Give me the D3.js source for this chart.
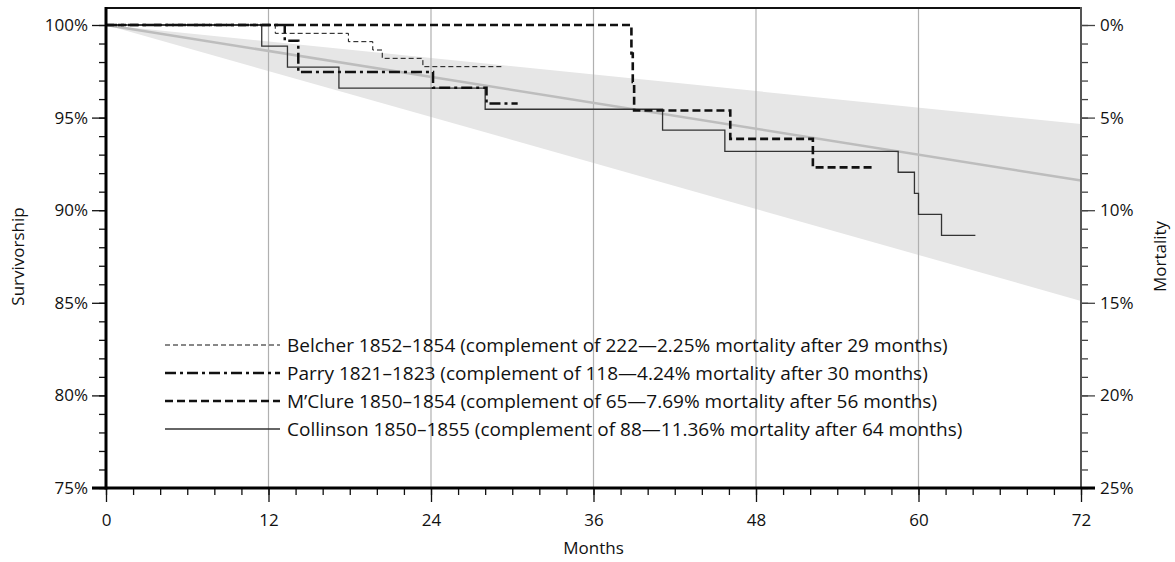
<!DOCTYPE html>
<html>
<head>
<meta charset="utf-8">
<script src="https://cdn.jsdelivr.net/npm/d3@7"></script>
<style>
  body { margin: 0; background: #fff; }
  svg text { font-family: "Open Sans", "Noto Sans", sans-serif; fill: #111; }
</style>
</head>
<body>
<div id="chart"></div>
<script>
// Survivorship step data: [month, survivorship %]
var belcher = [[0, 100], [12.5, 99.55], [17.9, 99.10], [19.7, 98.65], [20.4, 98.20], [23.4, 97.75], [29.4, 97.75]];
var parry = [[0, 100], [13.2, 99.15], [14.2, 97.46], [24.15, 96.61], [28.1, 95.76], [30.4, 95.76]];
var mclure = [[0, 100], [38.8, 98.46], [38.9, 96.92], [39.0, 95.38], [46.1, 93.85], [52.2, 92.31], [56.6, 92.31]];
var collinson = [[0, 100], [11.5, 98.86], [13.4, 97.73], [17.2, 96.59], [28.0, 95.45], [41.1, 94.32], [45.7, 93.18],
                 [58.5, 92.05], [59.7, 90.91], [60.0, 89.77], [61.7, 88.64], [64.2, 88.64]];

// expected trend and its band
var trend = [[0, 100], [72, 91.6]];
var bandUpper = [[0, 100], [72, 94.65]];
var bandLower = [[0, 100], [72, 85.1]];

var monthTicks = [0, 12, 24, 36, 48, 60, 72];
var survTicks = [75, 80, 85, 90, 95, 100];
var mortTicks = [0, 5, 10, 15, 20, 25];

var legendLabels = [
    "Belcher 1852\u20131854 (complement of 222\u20142.25% mortality after 29 months)",
    "Parry 1821\u20131823 (complement of 118\u20144.24% mortality after 30 months)",
    "M\u2019Clure 1850\u20131854 (complement of 65\u20147.69% mortality after 56 months)",
    "Collinson 1850\u20131855 (complement of 88\u201411.36% mortality after 64 months)"
];

var W = 1175, H = 562;
var m = { left: 106, right: 1081, top: 25, bottom: 488, frame: 8 };

var svg = d3.select("#chart").append("svg")
    .attr("width", W)
    .attr("height", H);

var x = d3.scaleLinear().domain([0, 72]).range([m.left, m.right]);
var y = d3.scaleLinear().domain([75, 100]).range([m.bottom, m.top]);
var yM = d3.scaleLinear().domain([0, 25]).range([m.top, m.bottom]);

// band
var area = d3.area()
    .x(function (d) { return x(d[0]); })
    .y0(function (d, i) { return y(bandLower[i][1]); })
    .y1(function (d) { return y(d[1]); });
svg.append("path")
    .datum(bandUpper)
    .attr("d", area)
    .attr("fill", "#e6e6e6");

// vertical gridlines
svg.selectAll("line.grid")
    .data(monthTicks.filter(function (d) { return d > 0 && d < 72; }))
    .enter().append("line")
    .attr("class", "grid")
    .attr("x1", function (d) { return x(d); })
    .attr("x2", function (d) { return x(d); })
    .attr("y1", m.frame)
    .attr("y2", m.bottom)
    .attr("stroke", "#b0b0b0")
    .attr("stroke-width", 1.2);

// trend line
var line = d3.line()
    .x(function (d) { return x(d[0]); })
    .y(function (d) { return y(d[1]); });
svg.append("path")
    .datum(trend)
    .attr("d", line)
    .attr("fill", "none")
    .attr("stroke", "#bdbdbd")
    .attr("stroke-width", 2.5);

// series styles
var series = [
    { data: belcher, width: 1, dash: "5,3", color: "#111" },
    { data: parry, width: 2.5, dash: "11,4,3,4", color: "#111" },
    { data: mclure, width: 2.6, dash: "8,4", color: "#111" },
    { data: collinson, width: 1.3, dash: null, color: "#333" }
];

var stepLine = d3.line()
    .x(function (d) { return x(d[0]); })
    .y(function (d) { return y(d[1]); })
    .curve(d3.curveStepAfter);

// draw solid first, dashed on top
[3, 0, 1, 2].forEach(function (k) {
    var s = series[k];
    svg.append("path")
        .datum(s.data)
        .attr("d", stepLine)
        .attr("fill", "none")
        .attr("stroke", s.color)
        .attr("stroke-width", s.width)
        .attr("stroke-dasharray", s.dash);
});

// legend
var legend = svg.append("g").attr("transform", "translate(165,345)");
legendLabels.forEach(function (label, i) {
    var s = series[i];
    var g = legend.append("g").attr("transform", "translate(0," + (i * 28) + ")");
    g.append("line")
        .attr("x1", 0).attr("x2", 115)
        .attr("y1", 0).attr("y2", 0)
        .attr("stroke", s.color)
        .attr("stroke-width", s.width)
        .attr("stroke-dasharray", s.dash);
    g.append("text")
        .attr("x", 122)
        .attr("y", 0)
        .attr("dy", "0.35em")
        .style("font-size", "19px")
        .text(label);
});

// axes
var xAxisMinor = d3.axisBottom(x).tickValues(d3.range(0, 73, 2)).tickSize(7).tickFormat("");
var xAxis = d3.axisBottom(x).tickValues(monthTicks).tickSize(14).tickPadding(12);
var yAxisMinor = d3.axisLeft(y).tickValues(d3.range(75, 101, 1)).tickSize(7).tickFormat("");
var yAxis = d3.axisLeft(y).tickValues(survTicks).tickSize(14).tickPadding(4)
    .tickFormat(function (d) { return d + "%"; });
var mAxisMinor = d3.axisRight(yM).tickValues(d3.range(0, 26, 1)).tickSize(7).tickFormat("");
var mAxis = d3.axisRight(yM).tickValues(mortTicks).tickSize(14).tickPadding(5)
    .tickFormat(function (d) { return d + "%"; });

function styleAxis(g, color) {
    g.select(".domain").remove();
    g.selectAll("line").attr("stroke", color).attr("stroke-width", 1.3);
    g.selectAll("text").style("font-size", "17px").attr("fill", "#111");
}

svg.append("g").attr("transform", "translate(0," + m.bottom + ")").call(xAxisMinor).call(styleAxis, "#111");
svg.append("g").attr("transform", "translate(0," + m.bottom + ")").call(xAxis).call(styleAxis, "#111");
svg.append("g").attr("transform", "translate(" + m.left + ",0)").call(yAxisMinor).call(styleAxis, "#111");
svg.append("g").attr("transform", "translate(" + m.left + ",0)").call(yAxis).call(styleAxis, "#111");
svg.append("g").attr("transform", "translate(" + m.right + ",0)").call(mAxisMinor).call(styleAxis, "#444");
svg.append("g").attr("transform", "translate(" + m.right + ",0)").call(mAxis).call(styleAxis, "#444");

// frame
svg.append("line")
    .attr("x1", m.left).attr("x2", m.right)
    .attr("y1", m.frame).attr("y2", m.frame)
    .attr("stroke", "#111").attr("stroke-width", 2);
svg.append("line")
    .attr("x1", m.right).attr("x2", m.right)
    .attr("y1", m.frame - 1).attr("y2", m.bottom)
    .attr("stroke", "#555").attr("stroke-width", 2);
svg.append("line")
    .attr("x1", m.left).attr("x2", m.left)
    .attr("y1", m.frame - 1).attr("y2", m.bottom + 1.5)
    .attr("stroke", "#000").attr("stroke-width", 3);
svg.append("line")
    .attr("x1", m.left - 14).attr("x2", m.right + 14)
    .attr("y1", m.bottom).attr("y2", m.bottom)
    .attr("stroke", "#000").attr("stroke-width", 3);

// axis titles
svg.append("text")
    .attr("transform", "translate(24," + ((m.top + m.bottom) / 2) + ") rotate(-90)")
    .attr("text-anchor", "middle")
    .style("font-size", "17px")
    .text("Survivorship");
svg.append("text")
    .attr("transform", "translate(1166," + ((m.top + m.bottom) / 2) + ") rotate(-90)")
    .attr("text-anchor", "middle")
    .style("font-size", "17px")
    .text("Mortality");
svg.append("text")
    .attr("x", (m.left + m.right) / 2)
    .attr("y", 554)
    .attr("text-anchor", "middle")
    .style("font-size", "17px")
    .text("Months");
</script>
</body>
</html>
